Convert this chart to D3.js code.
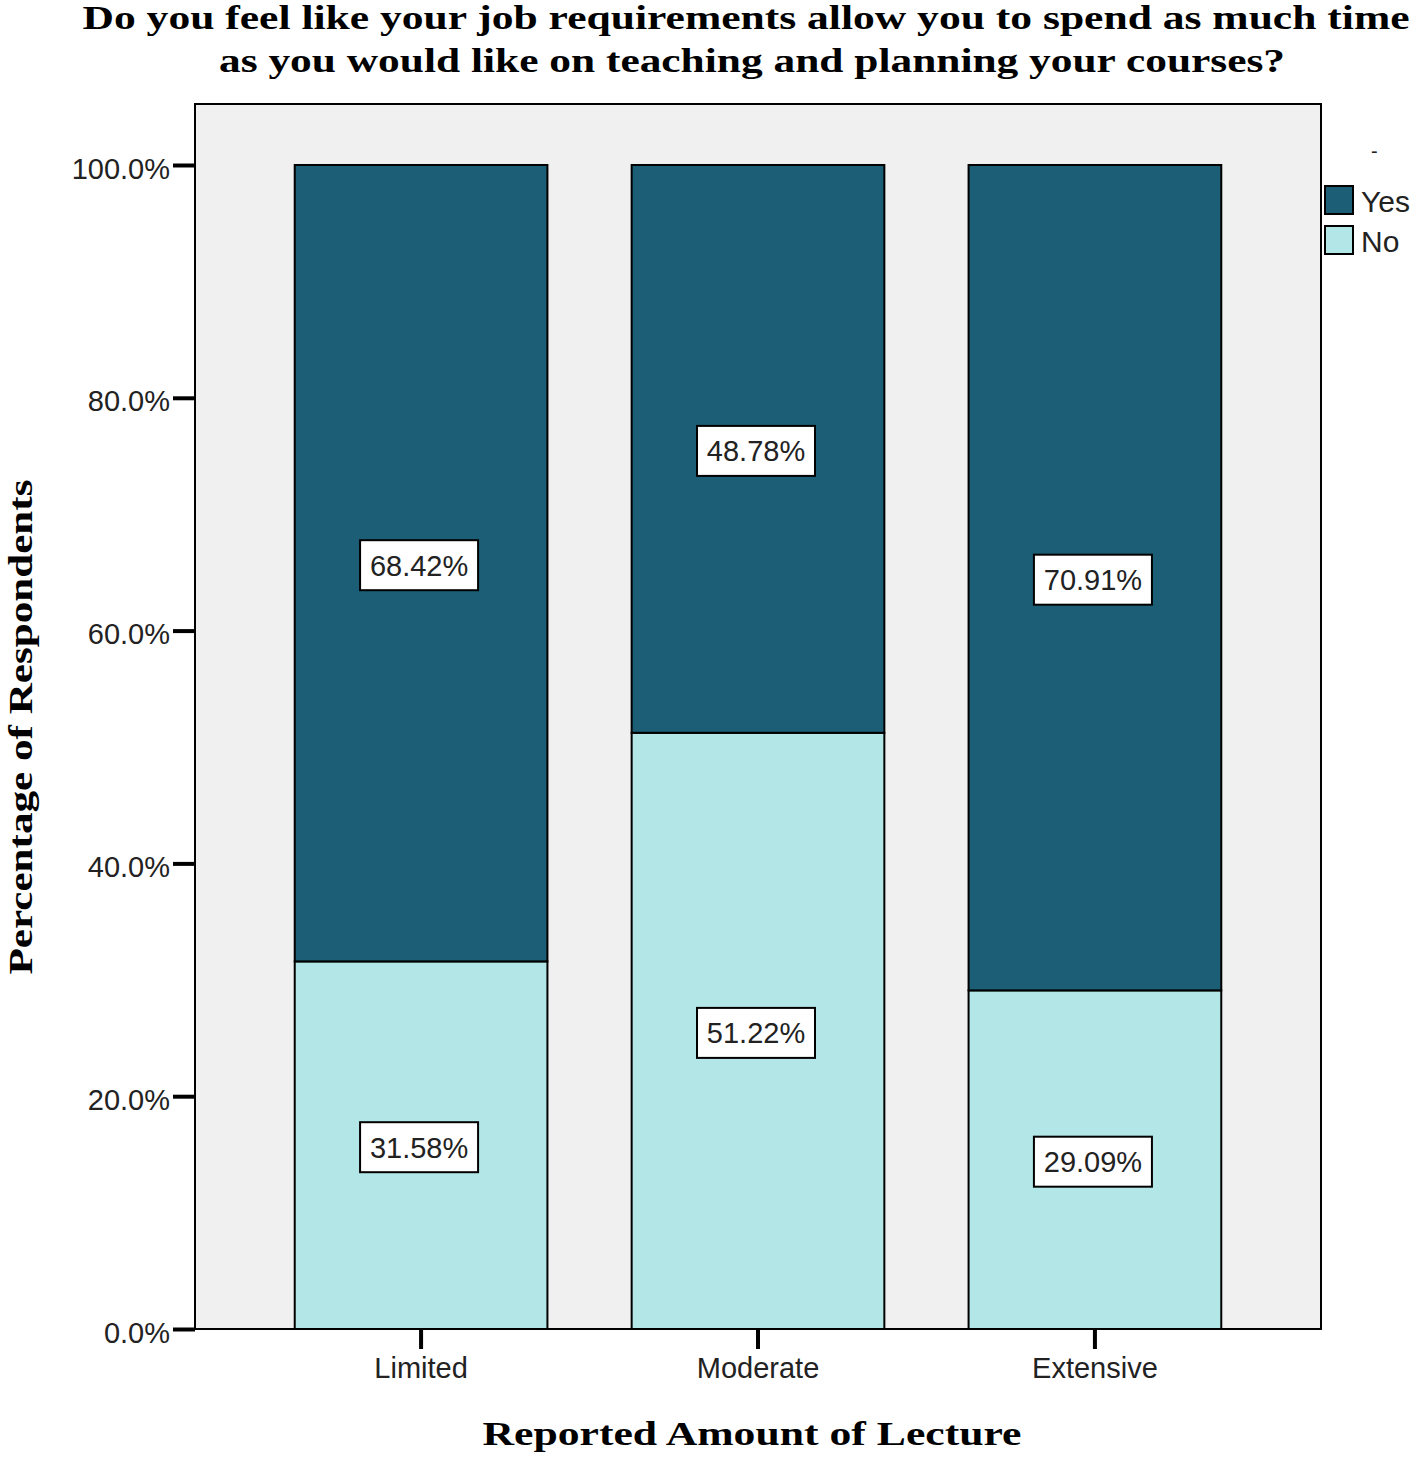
<!DOCTYPE html>
<html>
<head>
<meta charset="utf-8">
<script src="https://cdn.jsdelivr.net/npm/d3@7"></script>
<style>
  body { margin: 0; background: #fff; }
  text { font-family: "Liberation Sans", Arial, sans-serif; }
  .serif { font-family: "Liberation Serif", "Times New Roman", serif; font-weight: bold; }
</style>
</head>
<body>
<svg id="chart" width="1418" height="1459"></svg>
<script>
var categories = ["Limited", "Moderate", "Extensive"];
var seriesNames = ["Yes", "No"];
var noValues = [31.58, 51.22, 29.09];
var yesValues = [68.42, 48.78, 70.91];
var yTicks = [0, 20, 40, 60, 80, 100];

var colors = {Yes: "#1c5e75", No: "#b3e6e6"};

var margin = {top: 104, right: 97, bottom: 130, left: 195},
    width = 1418 - margin.left - margin.right,
    height = 1459 - margin.top - margin.bottom;

var svg = d3.select("#chart");

var chart = svg.append("g")
    .attr("transform", "translate(" + margin.left + "," + margin.top + ")");

var x = d3.scaleBand().domain(categories).range([0, width]).paddingInner(0.25).paddingOuter(0.296);
var y = d3.scaleLinear().domain([0, 105.24]).range([height, 0]);

var rows = categories.map(function(c, i) {
  return {cat: c, No: noValues[i], Yes: yesValues[i]};
});
var stacked = d3.stack().keys(["No", "Yes"])(rows);

// plot background
chart.append("rect")
    .attr("width", width).attr("height", height)
    .attr("fill", "#f0f0f0")
    .attr("stroke", "#000").attr("stroke-width", 2);

// bars
stacked.forEach(function(layer) {
  chart.append("g").selectAll("rect")
    .data(layer)
    .join("rect")
      .attr("x", d => x(d.data.cat))
      .attr("y", d => y(d[1]))
      .attr("width", x.bandwidth())
      .attr("height", d => y(d[0]) - y(d[1]))
      .attr("fill", colors[layer.key])
      .attr("stroke", "#000")
      .attr("stroke-width", 2);
});

// value labels
stacked.forEach(function(layer) {
  var g = chart.append("g").selectAll("g")
    .data(layer)
    .join("g")
      .attr("transform", d => "translate(" + (x(d.data.cat) + x.bandwidth() / 2 - 2) + "," + (y((d[0] + d[1]) / 2) + 2) + ")");
  g.append("rect")
      .attr("x", -59).attr("y", -25)
      .attr("width", 118).attr("height", 50)
      .attr("fill", "#fff")
      .attr("stroke", "#000").attr("stroke-width", 2);
  g.append("text")
      .attr("text-anchor", "middle")
      .attr("dy", "0.36em")
      .attr("font-size", 29)
      .attr("fill", "#222")
      .text(d => (d[1] - d[0]).toFixed(2) + "%");
});

// axes
var yAxis = d3.axisLeft(y).tickValues(yTicks).tickSize(22).tickPadding(3)
    .tickFormat(d => d.toFixed(1) + "%");
var gy = chart.append("g").call(yAxis);
gy.select(".domain").remove();
gy.selectAll(".tick line").attr("stroke-width", 4);
gy.selectAll(".tick text").attr("font-size", 29).attr("fill", "#222").attr("dy", "0.45em")
    .attr("font-family", "Liberation Sans, Arial, sans-serif");

var xAxis = d3.axisBottom(x).tickSize(20).tickPadding(8);
var gx = chart.append("g")
    .attr("transform", "translate(0," + height + ")")
    .call(xAxis);
gx.select(".domain").remove();
gx.selectAll(".tick line").attr("stroke-width", 4);
gx.selectAll(".tick text").attr("font-size", 29).attr("fill", "#222")
    .attr("font-family", "Liberation Sans, Arial, sans-serif");

// title
svg.append("text").attr("class", "serif")
    .attr("x", 746).attr("y", 29)
    .attr("text-anchor", "middle").attr("font-size", 34)
    .attr("textLength", 1327).attr("lengthAdjust", "spacingAndGlyphs")
    .text("Do you feel like your job requirements allow you to spend as much time");
svg.append("text").attr("class", "serif")
    .attr("x", 752).attr("y", 72)
    .attr("text-anchor", "middle").attr("font-size", 34)
    .attr("textLength", 1066).attr("lengthAdjust", "spacingAndGlyphs")
    .text("as you would like on teaching and planning your courses?");

// axis titles
svg.append("text").attr("class", "serif")
    .attr("transform", "translate(32,727) rotate(-90)")
    .attr("text-anchor", "middle").attr("font-size", 34)
    .attr("textLength", 495).attr("lengthAdjust", "spacingAndGlyphs")
    .text("Percentage of Respondents");
svg.append("text").attr("class", "serif")
    .attr("x", 752).attr("y", 1445)
    .attr("text-anchor", "middle").attr("font-size", 34)
    .attr("textLength", 539).attr("lengthAdjust", "spacingAndGlyphs")
    .text("Reported Amount of Lecture");

// legend
var legend = svg.append("g").attr("transform", "translate(1325,186)");
legend.append("text").attr("x", 46).attr("y", -28).attr("font-size", 20).attr("fill", "#222").text("-");
var li = legend.selectAll("g").data(seriesNames).join("g")
    .attr("transform", (d, i) => "translate(0," + i * 40 + ")");
li.append("rect").attr("width", 28).attr("height", 28)
    .attr("fill", d => colors[d]).attr("stroke", "#000").attr("stroke-width", 2);
li.append("text").attr("x", 36).attr("y", 15).attr("dy", "0.36em")
    .attr("font-size", 30).attr("fill", "#222").text(d => d);
</script>
</body>
</html>
